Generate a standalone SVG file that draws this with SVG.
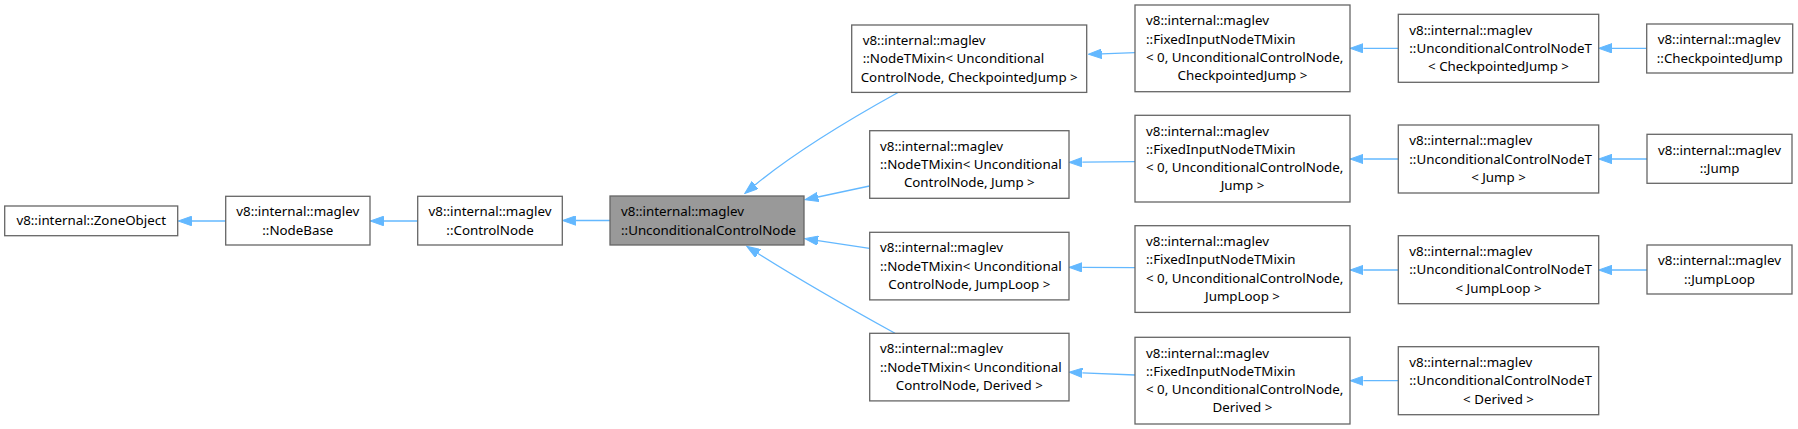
<svg xmlns="http://www.w3.org/2000/svg" width="1798" height="429" viewBox="0 0 1798 429">
<style>
.box{fill:#ffffff;stroke:#666666;stroke-width:1.3}
.cur{fill:#999999;stroke:#666666;stroke-width:1.3}
text{font-family:"Noto Sans","DejaVu Sans",sans-serif;font-size:13.33px;fill:#000000}
.m{text-anchor:middle}
.e{fill:none;stroke:#63b8ff;stroke-width:1.3;marker-end:url(#ah)}
</style>
<defs>
<marker id="ah" markerUnits="userSpaceOnUse" markerWidth="14" markerHeight="10" viewBox="0 0 14 10" refX="0" refY="5" orient="auto">
<path d="M0,0.3 L13.3,5 L0,9.7 z" fill="#63b8ff" stroke="#63b8ff" stroke-width="1"/>
</marker>
</defs>
<rect width="1798" height="429" fill="#ffffff"/>
<g id="connectors">
<path class="e" d="M225.7,221 L191.5,221"/>
<path class="e" d="M417.7,221 L383.5,221"/>
<path class="e" d="M610,220.5 L575.8,220.5"/>
<path class="e" d="M898,92.5 C870,108 800,148 755,185"/>
<path class="e" d="M869.5,186 L818,197"/>
<path class="e" d="M869.5,248.3 L818,240.6"/>
<path class="e" d="M895,333.3 C860,314 800,280 758,253.5"/>
<path class="e" d="M1135,52.7 L1101.6,53.8"/>
<path class="e" d="M1398.3,48.3 L1363.4,48.3"/>
<path class="e" d="M1646.7,48.3 L1612,48.3"/>
<path class="e" d="M1135,161.6 L1082.4,162.2"/>
<path class="e" d="M1398.3,159 L1363.4,159"/>
<path class="e" d="M1647,159 L1612,159"/>
<path class="e" d="M1135,267.7 L1082.4,267.4"/>
<path class="e" d="M1398.3,270 L1363.4,270"/>
<path class="e" d="M1647,270 L1612,270"/>
<path class="e" d="M1135,375 L1082.4,372.8"/>
<path class="e" d="M1398.3,380.7 L1363.4,380.7"/>
</g>
<g id="ZoneObject">
<rect class="box" x="4.7" y="206" width="173" height="29.7"/>
<text class="m" x="91.2" y="225.3">v8::internal::ZoneObject</text>
</g>
<g id="NodeBase">
<rect class="box" x="225.7" y="196.3" width="144.3" height="48.7"/>
<text class="m" x="297.8" y="216.4">v8::internal::maglev</text>
<text class="m" x="297.8" y="234.6">::NodeBase</text>
</g>
<g id="ControlNode">
<rect class="box" x="417.7" y="196.3" width="144.6" height="48.7"/>
<text class="m" x="490" y="216.4">v8::internal::maglev</text>
<text class="m" x="490" y="234.6">::ControlNode</text>
</g>
<g id="UnconditionalControlNode">
<rect class="cur" x="610" y="196" width="194" height="49"/>
<text x="621" y="216.2">v8::internal::maglev</text>
<text x="621" y="234.5">::UnconditionalControlNode</text>
</g>
<g id="NodeTMixinCheckpointedJump">
<rect class="box" x="851.7" y="25" width="235" height="67.4"/>
<text x="862.7" y="45">v8::internal::maglev</text>
<text x="862.7" y="63.3">::NodeTMixin&lt; Unconditional</text>
<text class="m" x="969.2" y="81.6">ControlNode, CheckpointedJump &gt;</text>
</g>
<g id="NodeTMixinJump">
<rect class="box" x="869.7" y="130.7" width="199.3" height="67.6"/>
<text x="880" y="150.8">v8::internal::maglev</text>
<text x="880" y="169.1">::NodeTMixin&lt; Unconditional</text>
<text class="m" x="969.3" y="187.4">ControlNode, Jump &gt;</text>
</g>
<g id="NodeTMixinJumpLoop">
<rect class="box" x="869.7" y="232.3" width="199.3" height="67.6"/>
<text x="880" y="252.4">v8::internal::maglev</text>
<text x="880" y="270.7">::NodeTMixin&lt; Unconditional</text>
<text class="m" x="969.3" y="289">ControlNode, JumpLoop &gt;</text>
</g>
<g id="NodeTMixinDerived">
<rect class="box" x="869.7" y="333.3" width="199.3" height="67.6"/>
<text x="880" y="353.4">v8::internal::maglev</text>
<text x="880" y="371.7">::NodeTMixin&lt; Unconditional</text>
<text class="m" x="969.3" y="390">ControlNode, Derived &gt;</text>
</g>
<g id="FixedInputCheckpointedJump">
<rect class="box" x="1135" y="5" width="215" height="86.7"/>
<text x="1146" y="25.2">v8::internal::maglev</text>
<text x="1146" y="43.5">::FixedInputNodeTMixin</text>
<text x="1146" y="61.8">&lt; 0, UnconditionalControlNode,</text>
<text class="m" x="1242.5" y="80.1">CheckpointedJump &gt;</text>
</g>
<g id="FixedInputJump">
<rect class="box" x="1135" y="115.3" width="215" height="86.7"/>
<text x="1146" y="135.5">v8::internal::maglev</text>
<text x="1146" y="153.8">::FixedInputNodeTMixin</text>
<text x="1146" y="172.1">&lt; 0, UnconditionalControlNode,</text>
<text class="m" x="1242.5" y="190.4">Jump &gt;</text>
</g>
<g id="FixedInputJumpLoop">
<rect class="box" x="1135" y="225.7" width="215" height="86.7"/>
<text x="1146" y="245.9">v8::internal::maglev</text>
<text x="1146" y="264.2">::FixedInputNodeTMixin</text>
<text x="1146" y="282.5">&lt; 0, UnconditionalControlNode,</text>
<text class="m" x="1242.5" y="300.8">JumpLoop &gt;</text>
</g>
<g id="FixedInputDerived">
<rect class="box" x="1135" y="337.3" width="215" height="86.7"/>
<text x="1146" y="357.5">v8::internal::maglev</text>
<text x="1146" y="375.8">::FixedInputNodeTMixin</text>
<text x="1146" y="394.1">&lt; 0, UnconditionalControlNode,</text>
<text class="m" x="1242.5" y="412.4">Derived &gt;</text>
</g>
<g id="UCNTCheckpointedJump">
<rect class="box" x="1398.3" y="14.3" width="200.4" height="68"/>
<text x="1409.3" y="34.5">v8::internal::maglev</text>
<text x="1409.3" y="52.8">::UnconditionalControlNodeT</text>
<text class="m" x="1498.5" y="71.1">&lt; CheckpointedJump &gt;</text>
</g>
<g id="UCNTJump">
<rect class="box" x="1398.3" y="125" width="200.4" height="68"/>
<text x="1409.3" y="145.2">v8::internal::maglev</text>
<text x="1409.3" y="163.5">::UnconditionalControlNodeT</text>
<text class="m" x="1498.5" y="181.8">&lt; Jump &gt;</text>
</g>
<g id="UCNTJumpLoop">
<rect class="box" x="1398.3" y="235.7" width="200.4" height="68"/>
<text x="1409.3" y="255.9">v8::internal::maglev</text>
<text x="1409.3" y="274.2">::UnconditionalControlNodeT</text>
<text class="m" x="1498.5" y="292.5">&lt; JumpLoop &gt;</text>
</g>
<g id="UCNTDerived">
<rect class="box" x="1398.3" y="346.7" width="200.4" height="68"/>
<text x="1409.3" y="366.9">v8::internal::maglev</text>
<text x="1409.3" y="385.2">::UnconditionalControlNodeT</text>
<text class="m" x="1498.5" y="403.5">&lt; Derived &gt;</text>
</g>
<g id="CheckpointedJump">
<rect class="box" x="1646.7" y="24" width="146" height="49"/>
<text x="1657.7" y="44.2">v8::internal::maglev</text>
<text class="m" x="1719.7" y="62.5">::CheckpointedJump</text>
</g>
<g id="Jump">
<rect class="box" x="1647" y="134.3" width="145" height="49"/>
<text x="1658" y="154.5">v8::internal::maglev</text>
<text class="m" x="1719.5" y="172.8">::Jump</text>
</g>
<g id="JumpLoop">
<rect class="box" x="1647" y="245" width="145" height="49"/>
<text x="1658" y="265.2">v8::internal::maglev</text>
<text class="m" x="1719.5" y="283.5">::JumpLoop</text>
</g>
</svg>
